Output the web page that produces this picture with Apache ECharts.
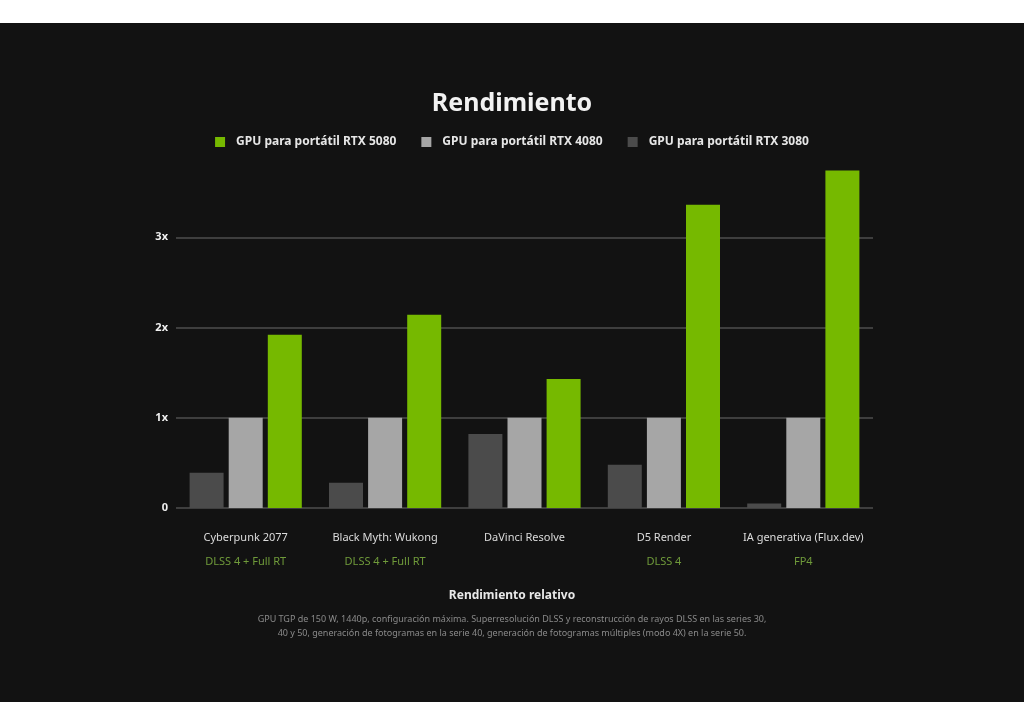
<!DOCTYPE html>
<html>
<head>
<meta charset="utf-8">
<script src="https://cdn.jsdelivr.net/npm/echarts@6/dist/echarts.min.js"></script>
<style>
  html, body { margin: 0; padding: 0; background: #ffffff; width: 1024px; height: 726px; overflow: hidden; }
  #chart { position: absolute; left: 0; top: 23px; width: 1024px; height: 679px; background: #121212; }
</style>
</head>
<body>
<div id="chart"></div>
<script>
const categories = ['Cyberpunk 2077', 'Black Myth: Wukong', 'DaVinci Resolve', 'D5 Render', 'IA generativa (Flux.dev)'];
const subtitles = ['DLSS 4 + Full RT', 'DLSS 4 + Full RT', '', 'DLSS 4', 'FP4'];
const seriesNames = ['GPU para portátil RTX 3080', 'GPU para portátil RTX 4080', 'GPU para portátil RTX 5080'];
const rtx3080 = [0.39, 0.28, 0.82, 0.48, 0.05];
const rtx4080 = [1.0, 1.0, 1.0, 1.0, 1.0];
const rtx5080 = [1.92, 2.14, 1.43, 3.36, 3.74];
const yTicks = { 0: '0', 1: '1x', 2: '2x', 3: '3x' };

const chart = echarts.init(document.getElementById('chart'));
const font = 'Noto Sans';
chart.setOption({
  backgroundColor: '#121212',
  textStyle: { fontFamily: font },
  title: [
    { text: 'Rendimiento', left: 'center', top: 63,
      textStyle: { color: '#f2f2f2', fontSize: 25, fontWeight: 'bold', fontFamily: font } },
    { text: 'Rendimiento relativo', left: 'center', top: 562,
      textStyle: { color: '#e8e8e8', fontSize: 12, fontWeight: 'bold', fontFamily: font } },
    { text: 'GPU TGP de 150 W, 1440p, configuración máxima. Superresolución DLSS y reconstrucción de rayos DLSS en las series 30,\n40 y 50, generación de fotogramas en la serie 40, generación de fotogramas múltiples (modo 4X) en la serie 50.',
      left: 'center', top: 584,
      textStyle: { color: '#8a8a8a', fontSize: 9, fontWeight: 'normal', lineHeight: 14, align: 'center', fontFamily: font } }
  ],
  legend: {
    data: [seriesNames[2], seriesNames[1], seriesNames[0]],
    top: 108, left: 'center',
    icon: 'rect', itemWidth: 10, itemHeight: 10, itemGap: 25,
    textStyle: { color: '#e6e6e6', fontSize: 12, fontWeight: 'bold', fontFamily: font, padding: [0, 0, 0, 6] }
  },
  grid: { left: 176, right: 151, top: 124, bottom: 194 },
  xAxis: {
    type: 'category',
    data: categories,
    axisLine: { show: false },
    axisTick: { show: false },
    axisLabel: {
      margin: 18,
      interval: 0,
      formatter: function (v, i) {
        return subtitles[i] ? '{a|' + v + '}\n{b|' + subtitles[i] + '}' : '{a|' + v + '}';
      },
      rich: {
        a: { color: '#dcdcdc', fontSize: 11, lineHeight: 24, fontFamily: font },
        b: { color: '#6f9a3a', fontSize: 11, lineHeight: 24, fontFamily: font }
      }
    }
  },
  yAxis: {
    type: 'value', min: 0, max: 4, interval: 1,
    axisLine: { show: false },
    axisTick: { show: false },
    axisLabel: {
      margin: 8, color: '#f0f0f0', fontSize: 11, fontWeight: 'bold', fontFamily: font,
      formatter: function (v) { return yTicks[v] !== undefined ? yTicks[v] : ''; }
    },
    splitLine: { show: true, showMaxLine: false, lineStyle: { color: '#4e4e4e', width: 1.5 } }
  },
  series: [
    { name: seriesNames[0], type: 'bar', data: rtx3080, barWidth: 34, barGap: '15%', itemStyle: { color: '#4b4b4b' } },
    { name: seriesNames[1], type: 'bar', data: rtx4080, barWidth: 34, barGap: '15%', itemStyle: { color: '#a6a6a6' } },
    { name: seriesNames[2], type: 'bar', data: rtx5080, barWidth: 34, barGap: '15%', itemStyle: { color: '#76b900' } }
  ]
});
</script>
</body>
</html>
